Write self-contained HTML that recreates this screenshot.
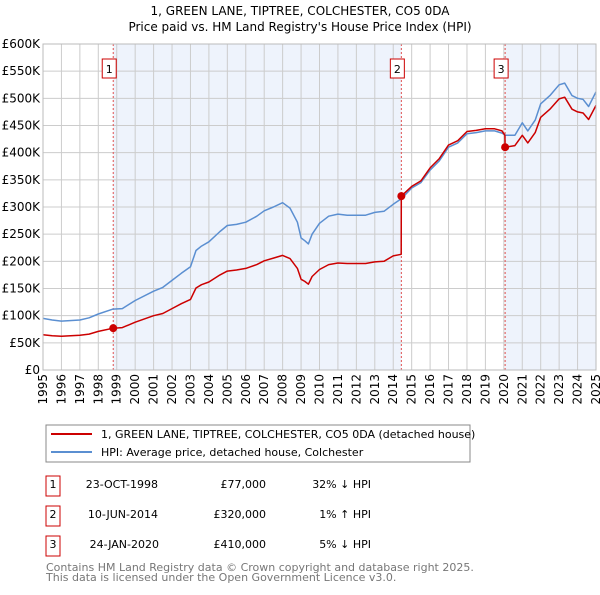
<!DOCTYPE html>
<html><head><meta charset="utf-8"><style>
body{margin:0;background:#fff;font-family:"Liberation Sans","DejaVu Sans",sans-serif;}
svg text{font-family:"DejaVu Sans","Liberation Sans",sans-serif;}
</style></head><body>
<svg id="c" width="600" height="590" xmlns="http://www.w3.org/2000/svg">
<text x="300" y="15" text-anchor="middle" font-size="12">1, GREEN LANE, TIPTREE, COLCHESTER, CO5 0DA</text>
<text x="300" y="31" text-anchor="middle" font-size="12">Price paid vs. HM Land Registry's House Price Index (HPI)</text>
<g id="plot"></g>
<g>
<rect x="46" y="425" width="424" height="37" fill="#fff" stroke="#888"/>
<line x1="51" y1="434" x2="92" y2="434" stroke="#cc0000" stroke-width="2"/>
<text x="101" y="438" font-size="11">1, GREEN LANE, TIPTREE, COLCHESTER, CO5 0DA (detached house)</text>
<line x1="51" y1="452" x2="92" y2="452" stroke="#5b8fd1" stroke-width="2"/>
<text x="101" y="456" font-size="11">HPI: Average price, detached house, Colchester</text>
</g>
<g font-size="11">
<rect x="46" y="476" width="14" height="20" fill="#fff" stroke="#cc0000"/>
<text x="53" y="488" text-anchor="middle">1</text>
<text x="158" y="488" text-anchor="end">23-OCT-1998</text>
<text x="266" y="488" text-anchor="end">£77,000</text>
<text x="371" y="488" text-anchor="end">32% ↓ HPI</text>
<rect x="46" y="506" width="14" height="20" fill="#fff" stroke="#cc0000"/>
<text x="53" y="518" text-anchor="middle">2</text>
<text x="158" y="518" text-anchor="end">10-JUN-2014</text>
<text x="266" y="518" text-anchor="end">£320,000</text>
<text x="371" y="518" text-anchor="end">1% ↑ HPI</text>
<rect x="46" y="536" width="14" height="20" fill="#fff" stroke="#cc0000"/>
<text x="53" y="548" text-anchor="middle">3</text>
<text x="159" y="548" text-anchor="end">24-JAN-2020</text>
<text x="266" y="548" text-anchor="end">£410,000</text>
<text x="371" y="548" text-anchor="end">5% ↓ HPI</text>
</g>
<text x="46" y="571" font-size="11" fill="#777">Contains HM Land Registry data © Crown copyright and database right 2025.</text>
<text x="46" y="581" font-size="11" fill="#777">This data is licensed under the Open Government Licence v3.0.</text>
</svg>
<script>
const hpiYears=[1995,1995.5,1996,1997,1997.5,1998,1998.8,1999.3,2000,2001,2001.5,2002,2002.5,2003,2003.3,2003.6,2004,2004.6,2005,2005.5,2006,2006.6,2007,2007.5,2008,2008.4,2008.8,2009,2009.2,2009.4,2009.6,2010,2010.5,2011,2011.5,2012,2012.5,2013,2013.5,2014,2014.44,2015,2015.5,2016,2016.5,2017,2017.5,2018,2018.5,2019,2019.5,2019.9,2020.1,2020.6,2021,2021.3,2021.7,2022,2022.5,2023,2023.3,2023.7,2024,2024.3,2024.6,2025];
const hpiValues=[95,92,90,92,96,103,112,113,128,145,152,165,178,190,220,228,236,255,266,268,272,283,293,300,308,298,272,243,238,232,250,270,283,287,285,285,285,290,292,305,315,335,345,368,385,410,418,435,437,440,440,436,432,432,455,440,460,490,505,525,528,505,500,498,485,512];
const redYears=[1995,1995.5,1996,1997,1997.5,1998,1998.81,1999.3,2000,2001,2001.5,2002,2002.5,2003,2003.3,2003.6,2004,2004.6,2005,2005.5,2006,2006.6,2007,2007.5,2008,2008.4,2008.8,2009,2009.2,2009.4,2009.6,2010,2010.5,2011,2011.5,2012,2012.5,2013,2013.5,2014,2014.43,2014.44,2015,2015.5,2016,2016.5,2017,2017.5,2018,2018.5,2019,2019.5,2019.9,2020.06,2020.07,2020.6,2021,2021.3,2021.7,2022,2022.5,2023,2023.3,2023.7,2024,2024.3,2024.6,2025];
const redValues=[65,63,62,64,66,71,77,78,88,100,104,113,122,130,151,157,162,175,182,184,187,194,201,206,211,205,187,167,163,158,172,185,194,197,196,196,196,199,200,210,213,320,338,348,372,389,414,422,439,441,444,444,440,432,410,413,432,418,437,465,480,499,502,480,475,473,461,487];
const saleYears=[1998.81,2014.44,2020.07];
const saleValues=[77,320,410];
const saleLabels=["1","2","3"];
const yTicks=[0,50,100,150,200,250,300,350,400,450,500,550,600];
const yTickLabels=["£0","£50K","£100K","£150K","£200K","£250K","£300K","£350K","£400K","£450K","£500K","£550K","£600K"];
const xTicks=[1995,1996,1997,1998,1999,2000,2001,2002,2003,2004,2005,2006,2007,2008,2009,2010,2011,2012,2013,2014,2015,2016,2017,2018,2019,2020,2021,2022,2023,2024,2025];

const X0=43,X1=596,Y0=370,Y1=44;
const sx=y=>X0+(y-1995)/30*(X1-X0);
const sy=v=>Y0-v/600*(Y0-Y1);
const NS="http://www.w3.org/2000/svg";
const g=document.getElementById('plot');
function mk(t,a){const e=document.createElementNS(NS,t);for(const k in a)e.setAttribute(k,a[k]);g.appendChild(e);return e;}
let b1=mk('rect',{x:sx(saleYears[0]),y:Y1,width:sx(saleYears[1])-sx(saleYears[0]),height:Y0-Y1,fill:'#eef3fc'});


let b2=mk('rect',{x:sx(saleYears[2]),y:Y1,width:X1-sx(saleYears[2]),height:Y0-Y1,fill:'#eef3fc'});


xTicks.forEach(t=>{
 let l=mk('line',{x1:sx(t),x2:sx(t),y1:Y1,y2:Y0,stroke:'#ccc','stroke-width':1});
 
 
 const x=sx(t)+4,y=Y0+4;
 let tx=mk('text',{x:x,y:y,'text-anchor':'end','font-size':12,transform:'rotate(-90 '+x+' '+y+')'});
 tx.textContent=t;
 
 
});
yTicks.forEach((t,i)=>{
 let l=mk('line',{x1:X0,x2:X1,y1:sy(t),y2:sy(t),stroke:'#ccc','stroke-width':1});
 
 
 let tx=mk('text',{x:X0-3,y:sy(t)+4,'text-anchor':'end','font-size':12});
 tx.textContent=yTickLabels[i];
 
 
});
saleYears.forEach((s,i)=>{
 let l=mk('line',{x1:sx(s),x2:sx(s),y1:Y1,y2:Y0,stroke:'#e05050','stroke-dasharray':'2,2','stroke-width':1});
 
 
 let r=mk('rect',{x:sx(s)-11,y:59,width:14,height:19,fill:'#fff',stroke:'#cc0000'});
 
 
 let t=mk('text',{x:sx(s)-4,y:73,'text-anchor':'middle','font-size':11});
 t.textContent=saleLabels[i];
 
 
});
function path(xs,vs,c,name){
 let d=xs.map((x,i)=>(i?'L':'M')+sx(x).toFixed(1)+','+sy(vs[i]).toFixed(1)).join('');
 let p=mk('path',{d:d,fill:'none',stroke:c,'stroke-width':1.5,'stroke-linejoin':'round'});
 
 
}
path(hpiYears,hpiValues,'#5b8fd1','hpi-line');
path(redYears,redValues,'#cc0000','property-line');
saleYears.forEach((s,i)=>{
 let c=mk('circle',{cx:sx(s),cy:sy(saleValues[i]),r:4,fill:'#cc0000'});
 
 
});
let ax=mk('rect',{x:X0,y:Y1,width:X1-X0,height:Y0-Y1,fill:'none',stroke:'#bbb'});


</script>
</body></html>
